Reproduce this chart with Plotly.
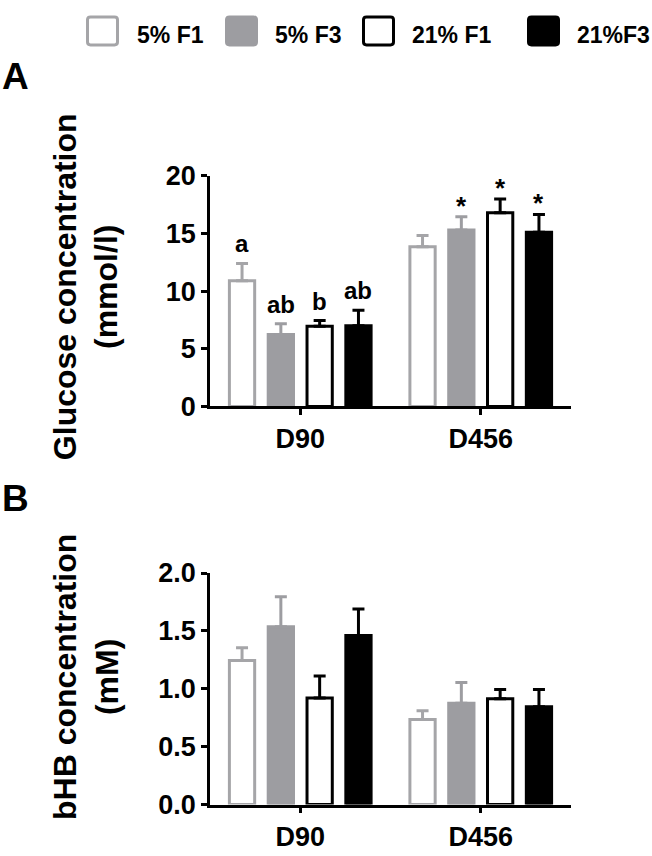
import plotly.graph_objects as go

# ---------------- data ----------------
days = ["D90", "D456"]
series = ["5% F1", "5% F3", "21% F1", "21%F3"]

glucose_mean = {
    "5% F1": [10.9, 13.85],
    "5% F3": [6.25, 15.3],
    "21% F1": [6.95, 16.8],
    "21%F3": [7.0, 15.1],
}
glucose_sem = {
    "5% F1": [1.5, 0.97],
    "5% F3": [0.92, 1.15],
    "21% F1": [0.5, 1.2],
    "21%F3": [1.35, 1.55],
}
glucose_marks = {
    "5% F1": ["a", ""],
    "5% F3": ["ab", "*"],
    "21% F1": ["b", "*"],
    "21%F3": ["ab", "*"],
}

bhb_mean = {
    "5% F1": [1.245, 0.735],
    "5% F3": [1.535, 0.875],
    "21% F1": [0.92, 0.915],
    "21%F3": [1.46, 0.845],
}
bhb_sem = {
    "5% F1": [0.11, 0.075],
    "5% F3": [0.26, 0.18],
    "21% F1": [0.19, 0.08],
    "21%F3": [0.23, 0.15],
}

glucose_ticks = [0, 5, 10, 15, 20]
bhb_ticks = [0.0, 0.5, 1.0, 1.5, 2.0]

# ---------------- styles ----------------
W, H = 652, 856
GRAY_LINE = "#a5a5a8"
GRAY_FILL = "#9d9da1"
styles = {
    "5% F1": dict(fill="white", line=GRAY_LINE),
    "5% F3": dict(fill=GRAY_FILL, line=GRAY_FILL),
    "21% F1": dict(fill="white", line="black"),
    "21%F3": dict(fill="black", line="black"),
}
FONT = "Liberation Sans, Arial, sans-serif"
slot = 0.215
bw = 0.14
xpos = list(range(len(days)))


def px_x(p):
    return p / W


def px_y(p):
    return 1 - p / H


def rounded_rect(x0, y0, x1, y1, r):
    # pixel coords -> paper-coordinate SVG path with rounded corners
    X = px_x
    Y = px_y
    return (f"M {X(x0 + r)},{Y(y0)} L {X(x1 - r)},{Y(y0)} Q {X(x1)},{Y(y0)} {X(x1)},{Y(y0 + r)} "
            f"L {X(x1)},{Y(y1 - r)} Q {X(x1)},{Y(y1)} {X(x1 - r)},{Y(y1)} "
            f"L {X(x0 + r)},{Y(y1)} Q {X(x0)},{Y(y1)} {X(x0)},{Y(y1 - r)} "
            f"L {X(x0)},{Y(y0 + r)} Q {X(x0)},{Y(y0)} {X(x0 + r)},{Y(y0)} Z")


fig = go.Figure()

panels = [
    ("x", "y", glucose_mean, glucose_sem),
    ("x2", "y2", bhb_mean, bhb_sem),
]
for xa, ya, means, sems in panels:
    for i, s in enumerate(series):
        st = styles[s]
        off = (i - (len(series) - 1) / 2) * slot
        fig.add_trace(go.Bar(
            x=xpos, y=means[s], name=s, xaxis=xa, yaxis=ya,
            width=bw, offset=off - bw / 2,
            marker=dict(color=st["fill"], line=dict(color=st["line"], width=3)),
            error_y=dict(type="data", symmetric=False, array=sems[s],
                         arrayminus=[0] * len(days), color=st["line"],
                         thickness=3, width=6),
            showlegend=False, hoverinfo="skip",
        ))

annotations = []
# significance letters / stars for glucose
for i, s in enumerate(series):
    off = (i - (len(series) - 1) / 2) * slot
    for j, txt in enumerate(glucose_marks[s]):
        if not txt:
            continue
        star = txt == "*"
        annotations.append(dict(
            x=xpos[j] + off, y=glucose_mean[s][j] + glucose_sem[s][j],
            xref="x", yref="y", text=txt, showarrow=False,
            xanchor="center", yanchor="bottom",
            yshift=-6 if star else 4,
            font=dict(family=FONT, size=26 if star else 24, color="black", weight="bold"),
        ))

# panel letters
annotations.append(dict(x=px_x(0), y=px_y(64), xref="paper", yref="paper", text="A",
                        showarrow=False, xanchor="left", yanchor="middle",
                        font=dict(family=FONT, size=37, color="black", weight="bold")))
annotations.append(dict(x=px_x(0), y=px_y(501), xref="paper", yref="paper", text="B",
                        showarrow=False, xanchor="left", yanchor="middle",
                        font=dict(family=FONT, size=37, color="black", weight="bold")))

# y-axis titles
annotations.append(dict(x=px_x(86), y=px_y(281), xref="paper", yref="paper",
                        text="Glucose concentration<br>(mmol/l)", textangle=-90,
                        showarrow=False, xanchor="center", yanchor="middle",
                        font=dict(family=FONT, size=32, color="black", weight="bold")))
annotations.append(dict(x=px_x(86), y=px_y(686), xref="paper", yref="paper",
                        text="bHB concentration<br>(mM)", textangle=-90,
                        showarrow=False, xanchor="center", yanchor="middle",
                        font=dict(family=FONT, size=32, color="black", weight="bold")))

# manual legend
shapes = []
leg_box_x = [86, 225, 362, 527]
leg_text_x = [137, 275, 412, 577]
for i, s in enumerate(series):
    st = styles[s]
    shapes.append(dict(type="path", xref="paper", yref="paper",
                       path=rounded_rect(leg_box_x[i] + 1.5, 2, leg_box_x[i] + 31.5, 31, 3),
                       fillcolor=st["fill"], line=dict(color=st["line"], width=3)))
    annotations.append(dict(x=px_x(leg_text_x[i] - 2), y=px_y(21), xref="paper", yref="paper",
                            text=s, showarrow=False, xanchor="left", yanchor="middle",
                            font=dict(family=FONT, size=23, color="black", weight="bold")))

axis_common = dict(showline=True, linecolor="black", linewidth=2.5, ticks="outside",
                   ticklen=6, tickwidth=2.5, tickcolor="black", showgrid=False,
                   zeroline=False,
                   tickfont=dict(family=FONT, size=27, color="black", weight="bold"))

xdom = [px_x(210), px_x(571)]
fig.update_layout(
    width=W, height=H, margin=dict(l=0, r=0, t=0, b=0),
    paper_bgcolor="white", plot_bgcolor="white",
    barmode="overlay",
    showlegend=False,
    hovermode=False,
    xaxis=dict(domain=xdom, range=[-0.5, 1.5], tickvals=xpos, ticktext=days,
               anchor="y", **axis_common),
    yaxis=dict(domain=[px_y(405.7), px_y(166.7)], range=[0, 20], tickvals=glucose_ticks,
               anchor="x", **axis_common),
    xaxis2=dict(domain=xdom, range=[-0.5, 1.5], tickvals=xpos, ticktext=days,
                anchor="y2", **axis_common),
    yaxis2=dict(domain=[px_y(818.3), px_y(578.3)], range=[0, 2], tickvals=bhb_ticks,
                tickformat=".1f", anchor="x2", **axis_common),
    annotations=annotations,
    shapes=shapes,
)

fig.write_html("out.html", config={"displayModeBar": False},
               post_script="document.body.style.margin='0';document.body.style.overflow='hidden';")
